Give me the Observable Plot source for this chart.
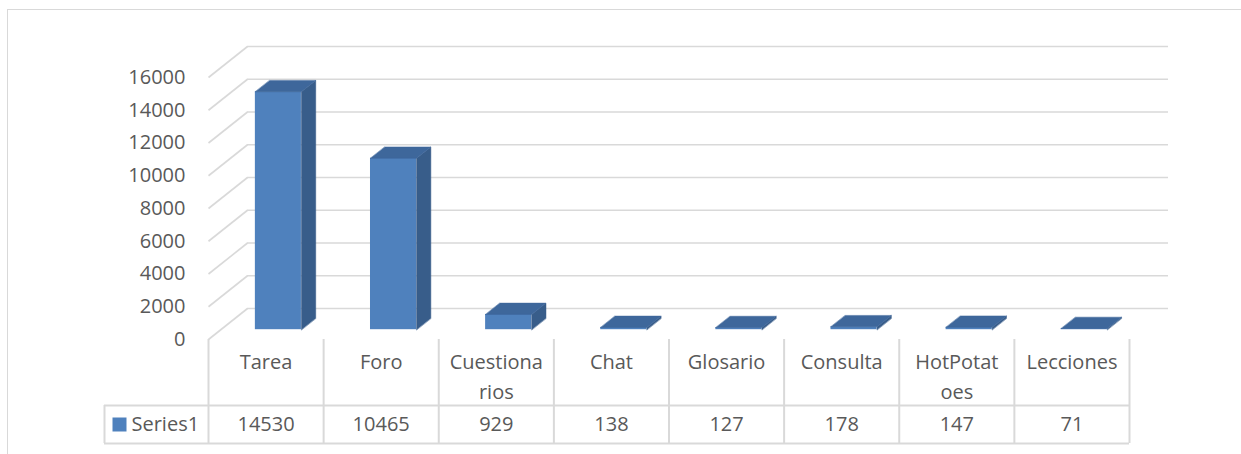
<!DOCTYPE html>
<html><head><meta charset="utf-8">
<script src="https://cdn.jsdelivr.net/npm/d3@7"></script>
<script src="https://cdn.jsdelivr.net/npm/@observablehq/plot@0.6"></script>
<style>
body{margin:0;background:#fff;overflow:hidden}
#wrap{position:relative;width:1241px;height:454px;overflow:hidden;background:#fff}
#border{position:absolute;left:7px;top:9px;width:1300px;height:520px;border:1px solid #d9d9d9;box-sizing:border-box}
#chart{position:absolute;left:0;top:0}
</style></head><body>
<div id="wrap"><div id="border"></div><div id="chart"></div></div>
<script>
// ---- data ----
const categories = ["Tarea", "Foro", "Cuestionarios", "Chat", "Glosario", "Consulta", "HotPotatoes", "Lecciones"];
const values = [14530, 10465, 929, 138, 127, 178, 147, 71];
const seriesName = "Series1";
const yTicks = [0, 2000, 4000, 6000, 8000, 10000, 12000, 14000, 16000];

// ---- layout ----
const W = 1241, H = 454;
const mL = 208, mR = 112, mT = 77, mB = 115;
const yMax = 16000;
const bandPx = (W - mL - mR) / categories.length;
const pxPerUnit = (H - mB - mT) / yMax;
const depthX = 39 / bandPx;          // 3D depth, in x (category) units
const depthY = 31 / pxPerUnit;       // 3D depth, in y (value) units
const f1 = 0.316, f2 = 0.683;        // front/back of columns along depth
const gap = 0.3;                     // each side of a column within its band
const FONT = "'Open Sans', sans-serif";
const FS = 20;
const TXT = "#595959", GRID = "#d9d9d9";
const C_FRONT = "#4f81bd", C_SIDE = "#385d8a", C_TOP = "#3e679b";
const rowLabelPx = 66, rowValuePx = 104;
const px2y = p => -p / pxPerUnit;
const px2x = p => (p - mL) / bandPx;

// ---- wrap category labels like the table cells ----
const ctx = document.createElement("canvas").getContext("2d");
ctx.font = `${FS}px ${FONT}`;
const maxW = 94.5;
function wrap(s) {
  const lines = [];
  let cur = "";
  for (const ch of s) {
    if (cur && ctx.measureText(cur + ch).width > maxW) { lines.push(cur); cur = ch; }
    else cur += ch;
  }
  lines.push(cur);
  return lines;
}
const labelRows = categories.flatMap((c, i) => wrap(c).map((line, k) => ({i, line, k})));

// ---- geometry of 3D columns (in data units) ----
const bars = categories.map((c, i) => ({c, i, v: values[i]}));
const xl = (d, f) => d.i + gap + f * depthX;
const xr = (d, f) => d.i + 1 - gap + f * depthX;
const yy = (v, f) => v + f * depthY;
const sidePts = bars.flatMap(d => [
  {id: d.c, x: xr(d, f1), y: yy(0, f1)},
  {id: d.c, x: xr(d, f1), y: yy(d.v, f1)},
  {id: d.c, x: xr(d, f2), y: yy(d.v, f2)},
  {id: d.c, x: xr(d, f2), y: yy(0, f2)}
]);
const topPts = bars.flatMap(d => [
  {id: d.c, x: xl(d, f1), y: yy(d.v, f1)},
  {id: d.c, x: xr(d, f1), y: yy(d.v, f1)},
  {id: d.c, x: xr(d, f2), y: yy(d.v, f2)},
  {id: d.c, x: xl(d, f2), y: yy(d.v, f2)}
]);

const n = categories.length;
const tableLeft = px2x(104);

const chart = Plot.plot({
  width: W, height: H,
  marginLeft: mL, marginRight: mR, marginTop: mT, marginBottom: mB,
  x: {domain: [0, n], axis: null},
  y: {domain: [0, yMax], axis: null},
  style: {fontFamily: FONT, fontSize: FS + "px", color: TXT, background: "transparent", overflow: "visible"},
  marks: [
    // back wall gridlines
    Plot.ruleY(yTicks, {y: d => d + depthY, x1: depthX, x2: n + depthX, stroke: GRID, strokeWidth: 1.6}),
    // side wall diagonals
    Plot.link(yTicks, {x1: 0, y1: d => d, x2: depthX, y2: d => d + depthY, stroke: GRID, strokeWidth: 1.6}),
    // y axis labels
    Plot.axisY(yTicks, {tickSize: 0, tickPadding: 23, fontSize: FS, fill: TXT, label: null, tickFormat: d => String(d)}),
    // columns: front, side, top
    Plot.rectY(bars, {x1: d => xl(d, f1), x2: d => xr(d, f1), y1: yy(0, f1), y2: d => yy(d.v, f1), fill: C_FRONT}),
    Plot.line(sidePts, {x: "x", y: "y", z: "id", curve: "linear-closed", fill: C_SIDE, stroke: C_SIDE, strokeWidth: 0.5}),
    Plot.line(topPts, {x: "x", y: "y", z: "id", curve: "linear-closed", fill: C_TOP, stroke: C_TOP, strokeWidth: 0.5}),
    // data table grid
    Plot.ruleX(d3.range(n + 1), {x: d => d, y1: 0, y2: px2y(rowValuePx), stroke: GRID, strokeWidth: 2}),
    Plot.ruleX([tableLeft], {y1: px2y(rowLabelPx), y2: px2y(rowValuePx), stroke: GRID, strokeWidth: 2}),
    Plot.ruleY([px2y(rowLabelPx), px2y(rowValuePx)], {x1: tableLeft, x2: n, stroke: GRID, strokeWidth: 2}),
    // category labels
    Plot.text(labelRows.filter(r => r.k === 0), {x: d => d.i + 0.5, y: 0, dy: 23, text: "line", fill: TXT, fontSize: FS}),
    Plot.text(labelRows.filter(r => r.k === 1), {x: d => d.i + 0.5, y: 0, dy: 53, text: "line", fill: TXT, fontSize: FS}),
    // values row
    Plot.text(bars, {x: d => d.i + 0.5, y: 0, dy: 85, text: d => String(d.v), fill: TXT, fontSize: FS}),
    // series legend cell
    Plot.dot([seriesName], {x: px2x(119), y: 0, dy: 85, symbol: "square", r: 7.9, fill: C_FRONT, stroke: null}),
    Plot.text([seriesName], {x: px2x(131), y: 0, dy: 85, text: d => d, textAnchor: "start", fill: TXT, fontSize: FS})
  ]
});
document.getElementById("chart").appendChild(chart);
</script>
</body></html>
